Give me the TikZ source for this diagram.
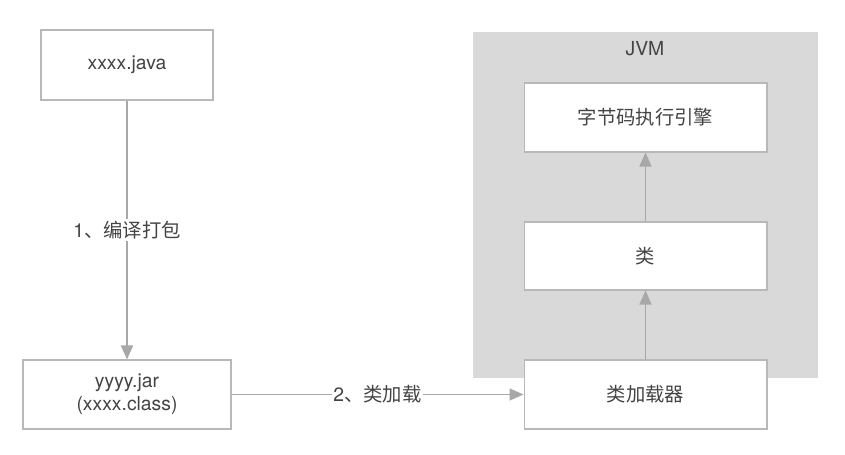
\documentclass[tikz,border=0pt]{standalone}
\usepackage{fontspec}
\setmainfont{TeX Gyre Heros}
\newfontfamily\cjk{Noto Sans CJK SC}
\usepackage{tikz}
\usetikzlibrary{arrows.meta}

\definecolor{boxline}{HTML}{B8B8B8}
\definecolor{arrline}{HTML}{A8A8A8}
\definecolor{jvmfill}{HTML}{D9D9D9}
\definecolor{txt}{HTML}{444444}

\begin{document}
\begin{tikzpicture}[x=0.02cm,y=-0.02cm,
    blk/.style={draw=boxline,line width=0.6pt,fill=white,text=txt,
      align=center,inner sep=0pt,font=\fontsize{11}{13}\selectfont},
    flow/.style={draw=arrline,line width=0.9pt,
      -{Triangle[length=0.28cm,width=0.24cm]}},
    lbl/.style={fill=white,text=txt,inner sep=1pt,
      font=\fontsize{11}{13}\selectfont}]
  \useasboundingbox (0,0) rectangle (845,455);
  % JVM area
  \fill[jvmfill] (473,32) rectangle (818,378);
  \node[text=txt,font=\fontsize{11}{13}\selectfont] (jvm) at (645,49) {JVM};
  % boxes
  \node[blk,minimum width=3.44cm,minimum height=1.4cm] (java) at (127,65) {xxxx.java};
  \node[blk,minimum width=4.16cm,minimum height=1.38cm] (jar) at (127,394.5)
    {yyyy.jar\\(xxxx.class)};
  \node[blk,minimum width=4.86cm,minimum height=1.38cm] (engine) at (645.5,117.5)
    {\cjk 字节码执行引擎};
  \node[blk,minimum width=4.86cm,minimum height=1.36cm] (cls) at (645.5,256)
    {\cjk 类};
  \node[blk,minimum width=4.86cm,minimum height=1.38cm] (loader) at (645.5,394.5)
    {\cjk 类加载器};
  % arrows
  \draw[flow] (java) -- node[lbl] {1\cjk 、编译打包} (jar);
  \draw[flow] (jar) -- node[lbl] {2\cjk 、类加载} (loader);
  \draw[flow] (loader) -- (cls);
  \draw[flow] (cls) -- (engine);
\end{tikzpicture}
\end{document}
